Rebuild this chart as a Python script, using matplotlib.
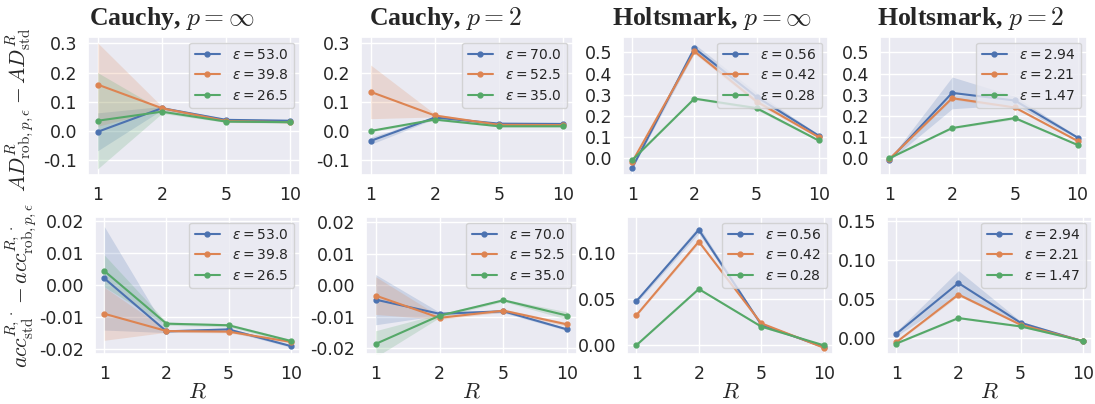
import numpy as np
import matplotlib
matplotlib.use("Agg")
import matplotlib.pyplot as plt
from matplotlib.font_manager import FontProperties
import seaborn as sns

# Dati
R_labels = ["1", "2", "5", "10"]
titles = [r"Cauchy, $p=\infty$", r"Cauchy, $p=2$", r"Holtsmark, $p=\infty$", r"Holtsmark, $p=2$"]
eps_cauchy_inf = ["53.0", "39.8", "26.5"]
eps_cauchy_2 = ["70.0", "52.5", "35.0"]
eps_holt_inf = ["0.56", "0.42", "0.28"]
eps_holt_2 = ["2.94", "2.21", "1.47"]

# riga sopra: AD rob - AD std (media e mezza ampiezza della banda)
ad_cauchy_inf = [[-0.003, 0.078, 0.038, 0.035], [0.159, 0.078, 0.034, 0.030], [0.035, 0.066, 0.032, 0.030]]
ad_cauchy_inf_err = [[0.065, 0.006, 0.004, 0.004], [0.143, 0.006, 0.003, 0.003], [0.165, 0.006, 0.003, 0.003]]
ad_cauchy_2 = [[-0.034, 0.046, 0.025, 0.024], [0.134, 0.053, 0.021, 0.020], [0.000, 0.039, 0.016, 0.016]]
ad_cauchy_2_err = [[0.012, 0.004, 0.003, 0.003], [0.092, 0.005, 0.003, 0.003], [0.004, 0.003, 0.002, 0.002]]
ad_holt_inf = [[-0.044, 0.520, 0.290, 0.107], [-0.016, 0.505, 0.268, 0.100], [-0.008, 0.282, 0.237, 0.084]]
ad_holt_inf_err = [[0.005, 0.020, 0.020, 0.005], [0.004, 0.010, 0.010, 0.004], [0.003, 0.004, 0.008, 0.004]]
ad_holt_2 = [[-0.008, 0.309, 0.273, 0.098], [-0.003, 0.284, 0.240, 0.082], [0.000, 0.143, 0.190, 0.063]]
ad_holt_2_err = [[0.004, 0.075, 0.020, 0.006], [0.003, 0.006, 0.006, 0.004], [0.002, 0.004, 0.006, 0.004]]

# riga sotto: acc std - acc rob
acc_cauchy_inf = [[0.0022, -0.0144, -0.0138, -0.0190], [-0.0089, -0.0143, -0.0145, -0.0177], [0.0045, -0.0120, -0.0125, -0.0174]]
acc_cauchy_inf_err = [[0.0162, 0.0004, 0.0005, 0.0004], [0.0083, 0.0004, 0.0004, 0.0004], [0.0050, 0.0005, 0.0005, 0.0005]]
acc_cauchy_2 = [[-0.0046, -0.0091, -0.0083, -0.0141], [-0.0033, -0.0104, -0.0081, -0.0125], [-0.0187, -0.0097, -0.0048, -0.0097]]
acc_cauchy_2_err = [[0.0080, 0.0005, 0.0005, 0.0004], [0.0060, 0.0005, 0.0005, 0.0006], [0.0042, 0.0006, 0.0004, 0.0012]]
acc_holt_inf = [[0.0476, 0.126, 0.022, -0.0026], [0.0322, 0.113, 0.0234, -0.0033], [-0.0007, 0.061, 0.0198, -0.0007]]
acc_holt_inf_err = [[0.002, 0.004, 0.001, 0.001], [0.001, 0.002, 0.001, 0.001], [0.0005, 0.001, 0.001, 0.0005]]
acc_holt_2 = [[0.0052, 0.0703, 0.0194, -0.0043], [-0.0056, 0.0556, 0.0168, -0.0039], [-0.0073, 0.0254, 0.0147, -0.0039]]
acc_holt_2_err = [[0.003, 0.016, 0.002, 0.001], [0.001, 0.002, 0.001, 0.0005], [0.001, 0.001, 0.001, 0.0005]]

sns.set_theme(style="darkgrid")
colors = sns.color_palette("deep")[:3]

fig = plt.figure(figsize=(10.95, 4.04), dpi=100)
W, H = 1095.0, 404.0

def make_ax(left, top, right, bottom):
    return fig.add_axes([left / W, 1 - bottom / H, (right - left) / W, (bottom - top) / H])

top_axes = [make_ax(88, 37, 300, 175), make_ax(361, 37, 573, 175),
            make_ax(623, 37, 828, 175), make_ax(880, 37, 1087, 175)]
bot_axes = [make_ax(95, 217, 300, 354), make_ax(366, 217, 577, 354),
            make_ax(627, 217, 833, 354), make_ax(887, 217, 1092, 354)]

top_data = [(ad_cauchy_inf, ad_cauchy_inf_err), (ad_cauchy_2, ad_cauchy_2_err),
            (ad_holt_inf, ad_holt_inf_err), (ad_holt_2, ad_holt_2_err)]
bot_data = [(acc_cauchy_inf, acc_cauchy_inf_err), (acc_cauchy_2, acc_cauchy_2_err),
            (acc_holt_inf, acc_holt_inf_err), (acc_holt_2, acc_holt_2_err)]
eps_list = [eps_cauchy_inf, eps_cauchy_2, eps_holt_inf, eps_holt_2]

top_ylim = [(-0.151, 0.322), (-0.151, 0.322), (-0.079, 0.573), (-0.079, 0.573)]
top_ticks = [[-0.1, 0.0, 0.1, 0.2, 0.3], [-0.1, 0.0, 0.1, 0.2, 0.3],
             [0.0, 0.1, 0.2, 0.3, 0.4, 0.5], [0.0, 0.1, 0.2, 0.3, 0.4, 0.5]]
bot_ylim = [(-0.0215, 0.0214), (-0.0219, 0.0217), (-0.0103, 0.14), (-0.0207, 0.155)]
bot_ticks = [[-0.02, -0.01, 0.0, 0.01, 0.02], [-0.02, -0.01, 0.0, 0.01, 0.02],
             [0.0, 0.05, 0.10], [0.0, 0.05, 0.10, 0.15]]

x = np.arange(len(R_labels))
legend_font = FontProperties(size=10, math_fontfamily="dejavusans")

def draw_panel(ax, means, errs, eps, ylim, ticks, fmt):
    for i in range(3):
        m = np.array(means[i])
        e = np.array(errs[i])
        ax.fill_between(x, m - e, m + e, color=colors[i], alpha=0.2, linewidth=0)
        ax.plot(x, m, color=colors[i], marker="o", markersize=3.5, linewidth=1.5,
                label=r"$\epsilon = " + eps[i] + "$")
    ax.set_xticks(x)
    ax.set_xticklabels(R_labels)
    ax.set_ylim(*ylim)
    ax.set_yticks(ticks)
    ax.set_yticklabels([fmt % t for t in ticks])
    ax.tick_params(labelsize=12.5, pad=2)
    ax.legend(loc="upper right", prop=legend_font, handlelength=1.8, handletextpad=0.9,
              borderaxespad=0.4, labelspacing=0.45)

for k in range(4):
    m, e = top_data[k]
    draw_panel(top_axes[k], m, e, eps_list[k], top_ylim[k], top_ticks[k], "%.1f")
    m, e = bot_data[k]
    draw_panel(bot_axes[k], m, e, eps_list[k], bot_ylim[k], bot_ticks[k], "%.2f")
    bot_axes[k].set_xlabel("$R$", fontsize=16, math_fontfamily="cm", labelpad=-1)

# titoli (serif grassetto + formula)
title_x = [172, 445, 712, 971]
for k in range(4):
    fig.text(title_x[k] / W, 1 - 19 / H, titles[k], ha="center", va="center",
             fontsize=18.5, fontweight="bold", family="Liberation Serif", math_fontfamily="cm")

top_axes[0].set_ylabel(r"$AD^R_{\mathrm{rob},p,\epsilon} - AD^R_{\mathrm{std}}$",
                       fontsize=15.5, math_fontfamily="cm")
top_axes[0].yaxis.set_label_coords(-0.245, 0.47)
bot_axes[0].set_ylabel(r"$acc^{R,\cdot}_{\mathrm{std}} - acc^{R,\cdot}_{\mathrm{rob},p,\epsilon}$",
                       fontsize=15.5, math_fontfamily="cm")
bot_axes[0].yaxis.set_label_coords(-0.275, 0.5)

fig.savefig("out.png", dpi=100)
